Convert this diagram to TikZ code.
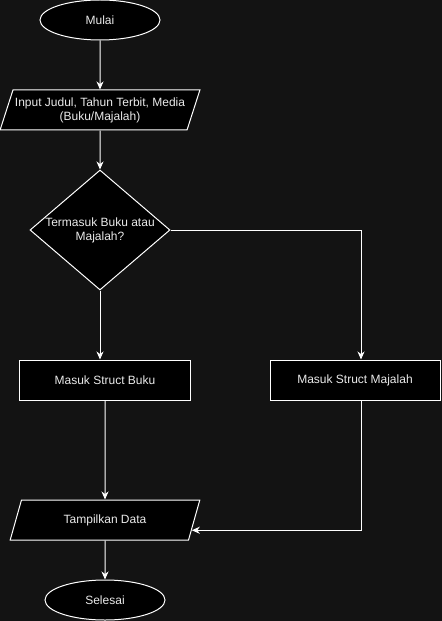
\documentclass[tikz,border=0pt]{standalone}
\usepackage{fontspec}
\setmainfont{Liberation Sans}
\usetikzlibrary{shapes.geometric,arrows.meta,calc}
\definecolor{bgc}{HTML}{131313}
\definecolor{txt}{HTML}{EAEAEA}
\begin{document}
\begin{tikzpicture}[x=1bp,y=-1bp,
  base/.style={draw=white,fill=black,line width=1bp,text=txt,inner sep=0pt,
    font=\fontsize{12bp}{14bp}\selectfont,align=center},
  term/.style={base,ellipse,minimum width=120bp,minimum height=40bp},
  io/.style={base,trapezium,trapezium left angle=63.43,trapezium right angle=116.57,
    trapezium stretches=true,minimum height=40bp},
  proc/.style={base,rectangle,minimum width=170bp,minimum height=40bp},
  decision/.style={base,diamond,minimum width=140bp,minimum height=120bp,aspect=1.1667},
  arr/.style={draw=white,line width=1bp,-{Stealth[length=8bp,width=7bp,inset=2.5bp]}}]
\fill[bgc] (0,0) rectangle (442,621);
\useasboundingbox (0,0) rectangle (442,621);
\node[term] (mulai) at (100,20) {Mulai};
\node[io,minimum width=200bp] (input) at (100,110) {Input Judul, Tahun Terbit, Media\\(Buku/Majalah)};
\node[decision] (dec) at (100,230) {Termasuk Buku atau\\Majalah?};
\node[proc] (buku) at (105,380) {Masuk Struct Buku};
\node[proc] (maj) at (355,380) {Masuk Struct Majalah};
\node[io,minimum width=190bp] (tampil) at (105,520) {Tampilkan Data};
\node[term] (selesai) at (105,600) {Selesai};
\coordinate (tin) at ($(tampil.top right corner)!0.75!(tampil.bottom right corner)$);
\draw[arr] (mulai) -- (input);
\draw[arr] (input) -- (dec);
\draw[arr] (dec.south) -- (dec.south |- buku.north);
\draw[arr] (dec.east) -| ([xshift=6bp]maj.north);
\draw[arr] (buku) -- (tampil);
\draw[arr] ([xshift=6bp]maj.south) |- (tin);
\draw[arr] (tampil) -- (selesai);
\end{tikzpicture}
\end{document}
